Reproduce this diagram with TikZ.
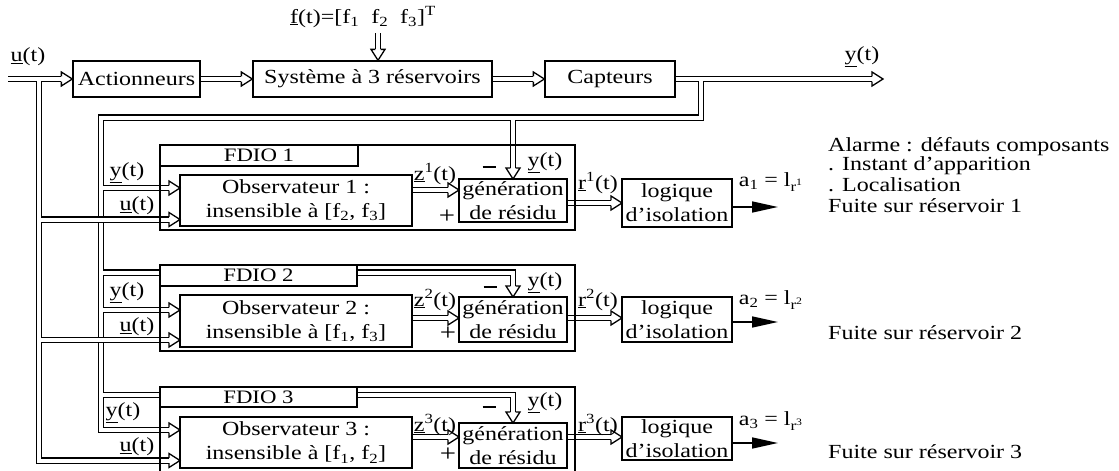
\documentclass[tikz,border=0pt]{standalone}
\usepackage{fontspec}
\setmainfont{Liberation Serif}[FakeStretch=1.2]
\usetikzlibrary{arrows.meta,calc}
\tikzset{
  blk/.style={draw, line width=1.3pt, inner sep=0pt, align=center, fill=white},
  frm/.style={draw, line width=1.3pt},
  dline/.style={draw, double, double distance=4pt, line width=1.2pt},
  lbl/.style={inner sep=0pt},
  outarr/.style={line width=1.6pt, -{Triangle[length=26pt,width=11pt]}},
  otip/.pic={
    \fill[white] (0,0) -- (-11,7) -- (-11,-7) -- cycle;
    \draw[line width=1.3pt, line join=miter] (-11,2.6) -- (-11,7) -- (0,0) -- (-11,-7) -- (-11,-2.6);
  }
}
\newcommand\minussign{\rule[0.28em]{13pt}{1.6pt}}
\begin{document}
\begin{tikzpicture}[x=1pt,y=-1pt,font=\fontsize{20}{24}\selectfont]
\useasboundingbox (0,0) rectangle (1119,471);
\clip (0,0) rectangle (1119,471);

% ---- main chain
\node[blk, minimum width=127pt, minimum height=36pt] (act) at (136.5,79) {Actionneurs};
\node[blk, minimum width=239pt, minimum height=36pt] (sys) at (372.5,79) {Système à 3 réservoirs};
\node[blk, minimum width=130pt, minimum height=36pt] (cap) at (610,79) {Capteurs};

% ---- block 1
\node[blk, minimum width=232pt, minimum height=51pt] (obs1) at (296,200.5) {Observateur 1 :\\insensible à [f\textsubscript{2}, f\textsubscript{3}]};
\node[blk, minimum width=108pt, minimum height=43pt] (gen1) at (513,200.5) {génération\\de résidu};
\node[blk, minimum width=110pt, minimum height=48pt] (log1) at (677,203) {logique\\d'isolation};
% ---- block 2
\node[blk, minimum width=232pt, minimum height=52pt] (obs2) at (296,321) {Observateur 2 :\\insensible à [f\textsubscript{1}, f\textsubscript{3}]};
\node[blk, minimum width=108pt, minimum height=45pt] (gen2) at (513,319.5) {génération\\de résidu};
\node[blk, minimum width=110pt, minimum height=45pt] (log2) at (677,319.5) {logique\\d'isolation};
% ---- block 3
\node[blk, minimum width=232pt, minimum height=51pt] (obs3) at (296,442.5) {Observateur 3 :\\insensible à [f\textsubscript{1}, f\textsubscript{2}]};
\node[blk, minimum width=108pt, minimum height=45pt] (gen3) at (513,445.5) {génération\\de résidu};
\node[blk, minimum width=110pt, minimum height=43pt] (log3) at (677,438.5) {logique\\d'isolation};

% ---- coordinates
\coordinate (uin) at (8,79);
\coordinate (yout) at (883,79);
\coordinate (fin) at (378,33);
\coordinate (g1in) at (459,190);  \coordinate (l1in) at (622,203); \coordinate (a1) at (778,207);
\coordinate (o1v) at (180,188);   \coordinate (o1u) at (180,219.5); \coordinate (g1y) at (513,179);
\coordinate (g2in) at (459,318);  \coordinate (l2in) at (622,318); \coordinate (a2) at (778,322);
\coordinate (o2v) at (180,310);   \coordinate (o2u) at (180,340);   \coordinate (g2y) at (513,297);
\coordinate (g3in) at (459,437);  \coordinate (l3in) at (622,437); \coordinate (a3) at (778,443);
\coordinate (o3v) at (180,430);   \coordinate (o3u) at (180,460.5); \coordinate (g3y) at (513,423);

% ---- y bus
\draw[dline] (cap.east) -- ($(yout)+(-11,0)$)
  (701,79) -- (701,117.5) -- (101,117.5) -- (101,430) -- ($(o3v)+(-11,0)$)
  (513,117.5) -- ($(g1y)+(0,-11)$)
  (101,188) -- ($(o1v)+(-11,0)$)
  (101,272.5) -- (513,272.5) -- ($(g2y)+(0,-11)$)
  (101,310) -- ($(o2v)+(-11,0)$)
  (101,395) -- (513,395) -- ($(g3y)+(0,-11)$);
% ---- u bus
\draw[dline] (uin) -- ($(act.west)+(-11,0)$)
  (39,79) -- (39,460.5) -- ($(o3u)+(-11,0)$)
  (39,219.5) -- ($(o1u)+(-11,0)$)
  (39,340) -- ($(o2u)+(-11,0)$);
% ---- chain links
\draw[dline] (act.east) -- ($(sys.west)+(-11,0)$);
\draw[dline] (sys.east) -- ($(cap.west)+(-11,0)$);
\draw[dline] (fin) -- ($(fin |- sys.north)+(0,-11)$);
\draw[dline] (obs1.east |- g1in) -- ($(g1in)+(-11,0)$);
\draw[dline] (gen1.east |- l1in) -- ($(l1in)+(-11,0)$);
\draw[dline] (obs2.east |- g2in) -- ($(g2in)+(-11,0)$);
\draw[dline] (gen2.east |- l2in) -- ($(l2in)+(-11,0)$);
\draw[dline] (obs3.east |- g3in) -- ($(g3in)+(-11,0)$);
\draw[dline] (gen3.east |- l3in) -- ($(l3in)+(-11,0)$);
\draw[outarr] (log1.east |- a1) -- (a1);
\draw[outarr] (log2.east |- a2) -- (a2);
\draw[outarr] (log3.east |- a3) -- (a3);

% ---- tips
\pic at (act.west) {otip};
\pic at (sys.west) {otip};
\pic at (cap.west) {otip};
\pic at (yout) {otip};
\pic[rotate=-90] at (fin |- sys.north) {otip};
\pic at (o1v) {otip}; \pic at (o1u) {otip};
\pic at (o2v) {otip}; \pic at (o2u) {otip};
\pic at (o3v) {otip}; \pic at (o3u) {otip};
\pic at (g1in) {otip}; \pic at (l1in) {otip};
\pic at (g2in) {otip}; \pic at (l2in) {otip};
\pic at (g3in) {otip}; \pic at (l3in) {otip};
\pic[rotate=-90] at (g1y) {otip};
\pic[rotate=-90] at (g2y) {otip};
\pic[rotate=-90] at (g3y) {otip};

% ---- FDIO frames and labels
\draw[frm] (160,145) rectangle (575,230);
\draw[frm] (160,265) rectangle (575,351);
\draw[frm] (160,387) rectangle (575,490);
\node[blk, minimum width=198pt, minimum height=21pt, font=\fontsize{19}{22}\selectfont] (fd1) at (259,155.5) {FDIO 1};
\node[blk, minimum width=197pt, minimum height=21pt, font=\fontsize{19}{22}\selectfont] (fd2) at (258.5,275.5) {FDIO 2};
\node[blk, minimum width=197pt, minimum height=20pt, font=\fontsize{19}{22}\selectfont] (fd3) at (258.5,397) {FDIO 3};

% ---- labels
\node[lbl] (lu) at (28,57) {\underline{u}(t)};
\node[lbl] (ly) at (862,57) {\underline{y}(t)};
\node[lbl] (lf) at (363,17) {\underline{f}(t)=[f\textsubscript{1}\ \ f\textsubscript{2}\ \ f\textsubscript{3}]\textsuperscript{T}};

\node[lbl] at (127,173) {\underline{y}(t)};
\node[lbl] at (137,206) {\underline{u}(t)};
\node[lbl] at (435,174) {\underline{z}\textsuperscript{1}(t)};
\node[lbl, font=\fontsize{24}{24}\selectfont] at (447,217) {+};
\node[lbl] at (489,170) {\minussign};
\node[lbl] at (545,163) {\underline{y}(t)};
\node[lbl] at (598,183) {\underline{r}\textsuperscript{1}(t)};
\node[lbl] at (771,182) {a\textsubscript{1} = l\textsubscript{r\textsuperscript{1}}};

\node[lbl] at (127,293) {\underline{y}(t)};
\node[lbl] at (137,327) {\underline{u}(t)};
\node[lbl] at (435,300) {\underline{z}\textsuperscript{2}(t)};
\node[lbl, font=\fontsize{24}{24}\selectfont] at (448,334) {+};
\node[lbl] at (490,290) {\minussign};
\node[lbl] at (545,283) {\underline{y}(t)};
\node[lbl] at (598,300) {\underline{r}\textsuperscript{2}(t)};
\node[lbl] at (771,300) {a\textsubscript{2} = l\textsubscript{r\textsuperscript{2}}};

\node[lbl] at (123,413) {\underline{y}(t)};
\node[lbl] at (137,447) {\underline{u}(t)};
\node[lbl] at (435,425) {\underline{z}\textsuperscript{3}(t)};
\node[lbl, font=\fontsize{24}{24}\selectfont] at (448,455) {+};
\node[lbl] at (489,410) {\minussign};
\node[lbl] at (545,403) {\underline{y}(t)};
\node[lbl] at (598,425) {\underline{r}\textsuperscript{3}(t)};
\node[lbl] at (771,421) {a\textsubscript{3} = l\textsubscript{r\textsuperscript{3}}};

\node[lbl, anchor=west] at (828,147) {Alarme : défauts composants};
\node[lbl, anchor=west] at (828,166) {. Instant d'apparition};
\node[lbl, anchor=west] at (828,185) {. Localisation};
\node[lbl, anchor=west] at (828,206) {Fuite sur réservoir 1};
\node[lbl, anchor=west] at (828,333) {Fuite sur réservoir 2};
\node[lbl, anchor=west] at (828,452) {Fuite sur réservoir 3};
\end{tikzpicture}
\end{document}
